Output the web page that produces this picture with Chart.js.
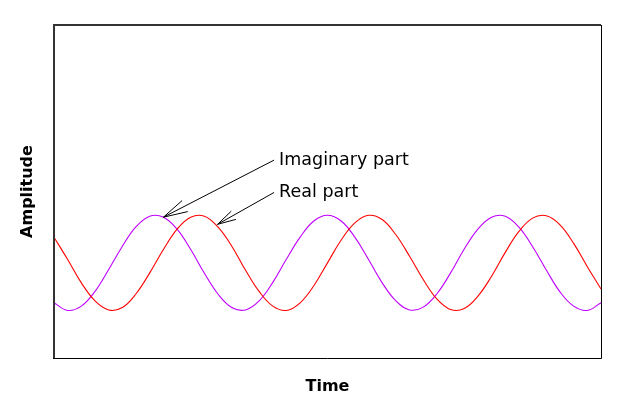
<!DOCTYPE html>
<html>
<head>
<meta charset="utf-8">
<script src="https://cdn.jsdelivr.net/npm/chart.js@4"></script>
<style>
  html, body { margin: 0; padding: 0; background: #fff; }
  #wrap { width: 640px; height: 400px; }
</style>
</head>
<body>
<div id="wrap"><canvas id="myChart"></canvas></div>
<script>
// time samples and the two parts of the wave
let timeValues = [0, 0.5, 1, 1.5, 2, 2.5, 3, 3.5, 4, 4.5, 5, 5.5, 6, 6.5, 7, 7.5, 8, 8.5, 9, 9.5,
    10, 10.5, 11, 11.5, 12, 12.5, 13, 13.5, 14, 14.5, 15, 15.5, 16, 16.5, 17, 17.5, 18, 18.5, 19, 19.5, 20];
let realPart = [0.54, 0.07, -0.42, -0.80, -0.99, -0.94, -0.65, -0.21, 0.28, 0.71, 0.96, 0.98, 0.75, 0.35,
    -0.15, -0.60, -0.91, -1.00, -0.84, -0.48, 0.00, 0.48, 0.84, 1.00, 0.91, 0.59, 0.14, -0.35, -0.76, -0.98,
    -0.96, -0.70, -0.28, 0.22, 0.66, 0.94, 0.99, 0.80, 0.41, -0.08, -0.55];
let imagPart = [-0.84, -1.00, -0.91, -0.60, -0.14, 0.35, 0.76, 0.98, 0.96, 0.71, 0.28, -0.22, -0.66, -0.94,
    -0.99, -0.80, -0.41, 0.08, 0.54, 0.88, 1.00, 0.88, 0.54, 0.07, -0.42, -0.80, -0.99, -0.93, -0.65, -0.21,
    0.29, 0.71, 0.96, 0.98, 0.75, 0.34, -0.15, -0.61, -0.91, -1.00, -0.84];

// annotations: label, where the text starts, where the arrow points (data units)
let noteLabels = ['Imaginary part', 'Real part'];
let noteText = [[8.23, 2.16], [8.23, 1.48]];
let noteTip = [[4.0, 0.96], [5.98, 0.81]];

function toPoints(xs, ys) {
    return xs.map((x, i) => ({ x: x, y: ys[i] }));
}

// frame round the plot and the arrow notes
let headLengths = [25, 19];
let framePlugin = {
    id: 'frame',
    afterDraw(chart) {
        let c = chart.ctx;
        let a = chart.chartArea;
        let xs = chart.scales.x, ys = chart.scales.y;
        c.save();
        let l = Math.round(a.left), t = Math.round(a.top);
        let r = Math.round(a.right), b = Math.round(a.bottom);
        // left and top edges come out a bit heavier in the original
        c.strokeStyle = '#333';
        c.lineWidth = 2;
        c.beginPath();
        c.moveTo(l, b);
        c.lineTo(l, t);
        c.lineTo(r, t);
        c.stroke();
        c.strokeStyle = '#000';
        c.lineWidth = 1;
        c.beginPath();
        c.moveTo(r + 0.5, t);
        c.lineTo(r + 0.5, b + 0.5);
        c.lineTo(l - 1, b + 0.5);
        c.stroke();

        c.font = '17.5px "DejaVu Sans"';
        c.fillStyle = '#000';
        c.textBaseline = 'middle';
        c.textAlign = 'left';
        noteLabels.forEach((label, i) => {
            let tx = xs.getPixelForValue(noteText[i][0]);
            let ty = ys.getPixelForValue(noteText[i][1]);
            let px = xs.getPixelForValue(noteTip[i][0]);
            let py = ys.getPixelForValue(noteTip[i][1]);
            c.fillText(label, tx, ty);
            let sx = tx - 5, sy = ty;
            c.beginPath();
            c.moveTo(sx, sy);
            c.lineTo(px, py);
            let ang = Math.atan2(sy - py, sx - px);
            let len = headLengths[i], spread = 0.25;
            c.moveTo(px + len * Math.cos(ang - spread), py + len * Math.sin(ang - spread));
            c.lineTo(px, py);
            c.lineTo(px + len * Math.cos(ang + spread), py + len * Math.sin(ang + spread));
            c.stroke();
        });
        c.restore();
    }
};

let ctx = document.getElementById('myChart').getContext('2d');
let myChart = new Chart(ctx, {
    type: 'line',
    data: {
        datasets: [{
            label: 'Real part',
            data: toPoints(timeValues, realPart),
            borderColor: '#ff0000',
            borderWidth: 1.1,
            pointRadius: 0,
            tension: 0.4
        }, {
            label: 'Imaginary part',
            data: toPoints(timeValues, imagPart),
            borderColor: '#bf00ff',
            borderWidth: 1.1,
            pointRadius: 0,
            tension: 0.4
        }]
    },
    options: {
        responsive: true,
        maintainAspectRatio: false,
        animation: false,
        layout: { padding: { top: 25, right: 39, left: 0, bottom: 0 } },
        plugins: {
            legend: { display: false },
            tooltip: { enabled: false }
        },
        scales: {
            x: {
                type: 'linear',
                min: 0,
                max: 20,
                grid: { display: false },
                border: { display: false },
                ticks: { display: false },
                title: {
                    display: true,
                    text: 'Time',
                    color: '#000',
                    font: { family: 'DejaVu Sans', size: 16, weight: 'bold' },
                    padding: { top: 0, bottom: 4 }
                },
                afterFit(scale) { scale.height = 42; }
            },
            y: {
                min: -2,
                max: 5,
                grid: { display: false },
                border: { display: false },
                ticks: { display: false },
                title: {
                    display: true,
                    text: 'Amplitude',
                    color: '#000',
                    font: { family: 'DejaVu Sans', size: 16, weight: 'bold' },
                    padding: { top: 18, bottom: 0 }
                },
                afterFit(scale) { scale.width = 54; }
            }
        }
    },
    plugins: [framePlugin]
});
</script>
</body>
</html>
